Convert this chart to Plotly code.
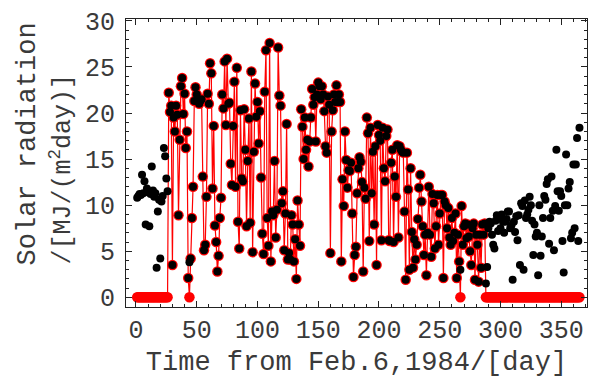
import plotly.graph_objects as go

# Daily solar radiation totals [MJ/(m^2 day)], day 1 = Feb. 7, 1984
rad_d001_026 = [10.8, 11.0, 11.2, 11.1, 13.3, 11.3, 12.6, 7.9, 11.8, 11.4,
                7.7, 11.2, 14.2, 11.6, 10.9, 11.3, 3.2, 9.3, 10.6, 4.2,
                10.4, 11.0, 16.2, 15.3, 12.9, 11.5]
rad_d027_086 = [22.2, 20.1, 20.8, 3.5, 19.5, 18.0, 20.8, 19.8, 8.9, 17.1,
                22.9, 23.8, 19.9, 22.1, 16.2, 18.0, 2.1, 3.8, 4.2, 8.6,
                12.0, 21.3, 22.8, 22.0, 21.3, 21.0, 21.3, 21.5, 13.1, 5.1,
                5.7, 10.9, 22.1, 21.0, 25.4, 24.3, 11.8, 18.6, 7.8, 6.0,
                2.8, 4.5, 8.6, 10.8, 22.0, 20.5, 25.6, 18.7, 25.9, 21.0,
                21.1, 14.5, 12.2, 18.6, 23.4, 12.0, 24.9, 8.2, 5.3, 20.3]
rad_d087_136 = [12.9, 12.6, 20.4, 16.0, 7.7, 14.8, 19.4, 8.1, 24.5, 4.9,
                15.8, 23.2, 19.6, 21.2, 16.7, 20.2, 13.0, 6.9, 4.7, 22.3,
                26.8, 8.6, 5.6, 27.6, 3.9, 9.3, 8.9, 14.8, 6.5, 9.5,
                27.1, 21.9, 20.8, 10.2, 11.5, 5.1, 9.1, 18.8, 4.1, 4.8,
                4.1, 8.9, 7.9, 3.9, 6.3, 2.0, 10.5, 7.9, 5.6, 20.4]
rad_d137_190 = [18.5, 15.0, 19.5, 16.0, 17.1, 14.2, 16.9, 19.5, 22.6, 20.9,
                21.7, 16.9, 22.0, 23.3, 22.9, 21.5, 22.9, 22.0, 20.2, 16.4,
                15.7, 21.8, 20.9, 4.8, 18.0, 20.3, 22.0, 21.2, 23.0, 21.2,
                22.0, 21.2, 3.9, 12.8, 9.9, 18.0, 14.9, 11.9, 13.8, 13.7,
                14.6, 9.1, 2.2, 4.6, 5.5, 11.3, 14.0, 15.2, 14.7, 12.5,
                2.8, 11.9, 10.7, 19.5]
rad_d191_266 = [17.8, 6.1, 18.4, 11.3, 15.8, 7.9, 16.4, 3.5, 18.7, 17.6,
                17.0, 6.2, 18.4, 14.0, 12.6, 17.5, 18.2, 6.2, 6.1, 14.6,
                16.0, 6.0, 13.1, 10.9, 16.5, 6.5, 16.4, 16.0, 15.8, 15.7,
                9.3, 1.9, 15.7, 11.7, 3.0, 14.0, 7.1, 3.2, 6.3, 4.1,
                5.7, 8.5, 11.9, 13.3, 10.4, 7.7, 4.6, 6.8, 2.4, 7.0,
                12.0, 6.8, 4.4, 11.2, 10.2, 5.3, 7.7, 11.1, 5.7, 9.1,
                11.1, 11.1, 2.1, 10.4, 10.0, 7.5, 9.7, 6.5, 5.7, 8.6,
                6.1, 7.0, 9.1, 2.1, 6.8, 3.9]
rad_d267_288 = [3.0, 9.9, 5.7, 7.7, 8.0, 6.4, 7.9, 6.6, 5.0, 3.5,
                7.5, 8.0, 1.9, 6.8, 5.7, 1.7, 6.8, 3.2, 7.9, 6.8,
                8.0, 1.5]
rad_d289_365 = [3.3, 7.5, 8.2, 8.0, 6.8, 5.7, 5.3, 8.3, 8.9, 7.2,
                8.6, 7.5, 9.0, 8.2, 7.0, 8.2, 8.5, 9.3, 9.3, 7.5,
                7.8, 1.9, 8.2, 7.1, 8.8, 6.2, 8.9, 3.5, 10.2, 9.9,
                3.0, 10.5, 8.6, 9.0, 9.5, 10.9, 10.0, 8.3, 4.6, 7.9,
                6.6, 7.0, 2.4, 10.0, 4.5, 6.6, 8.6, 11.0, 10.6, 12.3,
                12.8, 5.8, 8.6, 13.1, 9.4, 5.1, 9.9, 16.0, 11.5, 9.4,
                11.5, 11.0, 6.1, 2.7, 10.0, 15.5, 10.0, 11.8, 12.5, 6.4,
                7.0, 14.4, 7.5, 14.4, 17.3, 6.1, 18.4]

radiation = (rad_d001_026 + rad_d027_086 + rad_d087_136 + rad_d137_190
             + rad_d191_266 + rad_d267_288 + rad_d289_365)
days = list(range(1, len(radiation) + 1))

# Period fed to the model; outside it (and on the dropped days) the input is zero
used_first_day = 27
used_last_day = 287
dropped_days = [44, 267]
model_input = [r if used_first_day <= d <= used_last_day and d not in dropped_days else 0.0
               for d, r in zip(days, radiation)]

x_ticks = [0, 50, 100, 150, 200, 250, 300, 350]
y_ticks = [0, 5, 10, 15, 20, 25, 30]

FONT = "Liberation Mono, Courier New, monospace"
FRAME = "#222222"
TEXT = "#3a3a3a"

fig = go.Figure()
fig.add_trace(go.Scatter(
    x=days, y=model_input, mode="lines+markers",
    line=dict(color="#ff0000", width=1.2),
    marker=dict(color="#ff0000", size=10.5, line=dict(width=0)),
    showlegend=False, hoverinfo="skip",
))
fig.add_trace(go.Scatter(
    x=days, y=radiation, mode="markers",
    marker=dict(color="#000000", size=8, line=dict(width=0)),
    showlegend=False,
))

axis_common = dict(
    showline=True, linecolor=FRAME, linewidth=1, mirror="allticks",
    ticks="inside", ticklen=6, tickwidth=1, tickcolor=FRAME,
    showgrid=False, zeroline=False,
    tickfont=dict(family=FONT, size=25, color=TEXT),
)

fig.update_layout(
    width=589, height=378,
    margin=dict(l=126, r=2, t=19, b=71),
    paper_bgcolor="white", plot_bgcolor="white",
    xaxis=dict(
        range=[-8.2, 371.2], tickvals=x_ticks,
        minor=dict(dtick=10, ticks="inside", ticklen=3, tickcolor=FRAME, showgrid=False),
        title=dict(text="Time from Feb.6,1984/[day]", standoff=8,
                   font=dict(family=FONT, size=27, color=TEXT)),
        **axis_common,
    ),
    yaxis=dict(
        range=[-1.05, 30.2], tickvals=y_ticks, ticklabelstandoff=5,
        minor=dict(dtick=1, ticks="inside", ticklen=3, tickcolor=FRAME, showgrid=False),
        **axis_common,
    ),
    annotations=[
        dict(text="Solar radiation", textangle=-90, showarrow=False,
             xref="paper", yref="paper", x=-0.2126, y=0.139,
             xanchor="center", yanchor="bottom",
             font=dict(family=FONT, size=27, color=TEXT)),
        dict(text="/[MJ/(m<sup>2</sup>day)]", textangle=-90, showarrow=False,
             xref="paper", yref="paper", x=-0.1388, y=0.139,
             xanchor="center", yanchor="bottom",
             font=dict(family=FONT, size=25, color=TEXT)),
    ],
)

fig.write_html("out.html")
